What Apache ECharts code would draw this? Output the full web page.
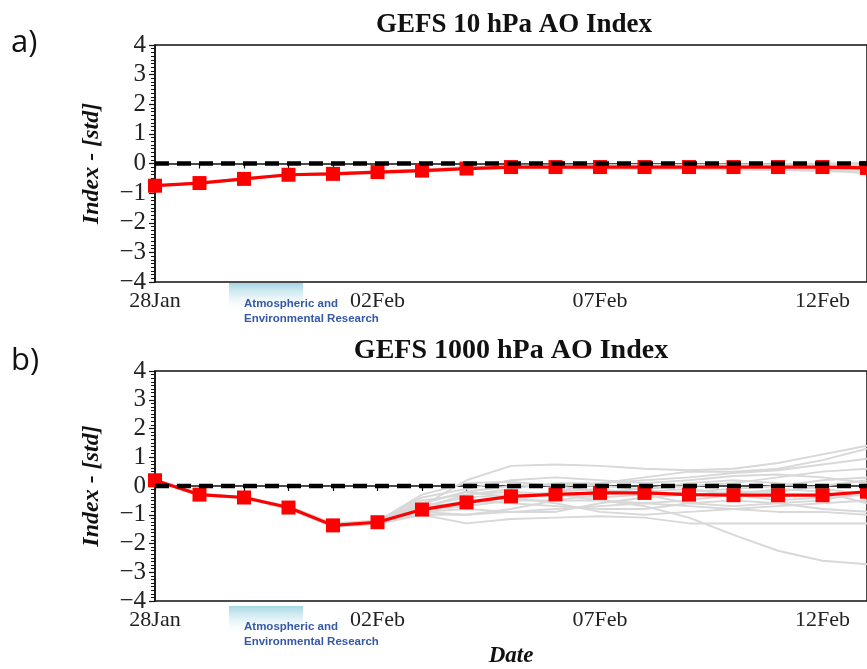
<!DOCTYPE html>
<html>
<head>
<meta charset="utf-8">
<script src="https://cdn.jsdelivr.net/npm/echarts@6/dist/echarts.min.js"></script>
<style>
html,body{margin:0;padding:0;background:#fff;}
#chart{width:867px;height:669px;}
</style>
</head>
<body>
<div id="chart"></div>
<script>
// ---- Data ----
var dates = ['28Jan','29Jan','30Jan','31Jan','01Feb','02Feb','03Feb','04Feb','05Feb','06Feb','07Feb','08Feb','09Feb','10Feb','11Feb','12Feb','13Feb'];
var xTickLabels = ['28Jan','02Feb','07Feb','12Feb'];
var titleTop = 'GEFS 10 hPa AO Index';
var titleBottom = 'GEFS 1000 hPa AO Index';
// zero reference line
var zeroRef = [0,0,0,0,0,0,0,0,0,0,0,0,0,0,0,0,0];

// 10 hPa ensemble mean
var mean10 = [-0.75,-0.66,-0.52,-0.38,-0.35,-0.29,-0.24,-0.17,-0.12,-0.12,-0.12,-0.12,-0.12,-0.12,-0.12,-0.12,-0.15];
// 10 hPa members
var m10a = [-0.75,-0.65,-0.50,-0.36,-0.32,-0.26,-0.20,-0.12,-0.08,-0.07,-0.06,-0.05,-0.04,-0.03,-0.02,0.00,0.02];
var m10b = [-0.75,-0.67,-0.54,-0.40,-0.38,-0.32,-0.28,-0.19,-0.16,-0.16,-0.17,-0.18,-0.18,-0.20,-0.22,-0.25,-0.30];
var m10c = [-0.75,-0.66,-0.52,-0.38,-0.34,-0.28,-0.22,-0.14,-0.10,-0.10,-0.10,-0.09,-0.08,-0.08,-0.06,-0.05,-0.05];
var m10d = [-0.75,-0.66,-0.53,-0.39,-0.36,-0.30,-0.26,-0.17,-0.14,-0.14,-0.15,-0.15,-0.16,-0.17,-0.18,-0.20,-0.22];
var m10e = [-0.75,-0.65,-0.51,-0.37,-0.33,-0.27,-0.23,-0.14,-0.11,-0.11,-0.11,-0.12,-0.13,-0.12,-0.11,-0.10,-0.12];
var m10f = [-0.75,-0.67,-0.53,-0.39,-0.36,-0.30,-0.25,-0.16,-0.13,-0.13,-0.12,-0.11,-0.10,-0.12,-0.15,-0.18,-0.35];

// 1000 hPa ensemble mean
var mean1000 = [0.20,-0.30,-0.40,-0.75,-1.37,-1.26,-0.82,-0.57,-0.36,-0.29,-0.24,-0.24,-0.30,-0.32,-0.32,-0.32,-0.20];
// 1000 hPa members
var m1a = [0.20,-0.28,-0.38,-0.70,-1.30,-1.20,-0.70,0.20,0.70,0.75,0.70,0.60,0.55,0.60,0.80,1.10,1.40];
var m1b = [0.20,-0.30,-0.42,-0.78,-1.40,-1.30,-0.90,-0.60,-0.40,-0.20,0.10,0.30,0.50,0.50,0.60,0.90,1.30];
var m1c = [0.20,-0.32,-0.40,-0.72,-1.35,-1.22,-0.75,-0.30,-0.10,0.10,0.10,0.20,0.30,0.45,0.55,0.75,0.95];
var m1d = [0.20,-0.30,-0.38,-0.76,-1.40,-1.28,-1.00,-1.30,-1.15,-1.10,-1.05,-1.10,-1.30,-1.30,-1.30,-1.30,-1.30];
var m1e = [0.20,-0.30,-0.40,-0.75,-1.38,-1.25,-0.85,-0.70,-0.50,-0.50,-0.50,-0.70,-1.10,-1.70,-2.25,-2.60,-2.72];
var m1f = [0.20,-0.30,-0.40,-0.74,-1.36,-1.26,-0.60,-0.20,0.00,0.05,0.00,-0.10,0.00,0.10,0.30,0.50,0.60];
var m1g = [0.20,-0.31,-0.41,-0.77,-1.39,-1.29,-0.90,-0.80,-0.90,-0.80,-0.70,-0.60,-0.70,-0.80,-0.90,-0.90,-1.00];
var m1h = [0.20,-0.29,-0.39,-0.73,-1.35,-1.24,-0.50,-0.30,-0.20,-0.30,-0.40,-0.30,-0.20,-0.10,0.00,0.20,0.30];
var m1i = [0.20,-0.30,-0.41,-0.76,-1.38,-1.27,-0.80,-0.50,-0.60,-0.70,-0.80,-0.80,-0.60,-0.50,-0.60,-0.80,-0.90];
var m1j = [0.20,-0.31,-0.42,-0.79,-1.42,-1.32,-1.00,-1.00,-0.80,-0.50,-0.30,-0.20,-0.10,-0.30,-0.50,-0.40,-0.30];
var m1k = [0.20,-0.29,-0.38,-0.72,-1.33,-1.22,-0.40,-0.10,0.20,0.30,0.20,0.10,0.20,0.35,0.40,0.30,0.10];
var m1l = [0.20,-0.30,-0.40,-0.75,-1.37,-1.26,-0.60,-0.70,-0.50,-0.20,-0.10,-0.30,-0.60,-0.70,-0.60,-0.50,-0.20];
var m1m = [0.20,-0.30,-0.39,-0.74,-1.36,-1.25,-0.70,-0.40,-0.30,-0.30,-0.50,-0.60,-0.50,-0.30,-0.10,-0.20,-0.60];
var m1n = [0.20,-0.31,-0.41,-0.77,-1.40,-1.30,-0.90,-1.00,-0.90,-0.90,-0.60,-0.40,-0.30,-0.20,-0.20,0.00,0.20];
var m1o = [0.20,-0.29,-0.39,-0.73,-1.34,-1.23,-0.30,0.10,0.15,0.00,-0.20,-0.10,0.10,0.20,0.10,-0.10,-0.30];
var m1p = [0.20,-0.30,-0.40,-0.75,-1.37,-1.27,-0.60,-0.20,-0.40,-0.60,-0.90,-1.00,-0.90,-0.80,-0.70,-0.60,-0.50];

var members10 = [m10a, m10b, m10c, m10d, m10e, m10f];
var members1000 = [m1a, m1b, m1c, m1d, m1e, m1f, m1g, m1h, m1i, m1j, m1k, m1l, m1m, m1n, m1o, m1p];

// ---- Chart ----
var chart = echarts.init(document.getElementById('chart'), null, {renderer: 'canvas'});
var serif = '"Liberation Serif","Times New Roman",serif';
var axisColor = '#111';

function xAxisCfg(gridIndex, withName) {
  var cfg = {
    type: 'category', gridIndex: gridIndex, data: dates, boundaryGap: false,
    axisLine: {show: true, lineStyle: {color: axisColor, width: 1.5}},
    axisTick: {show: true, interval: 0, length: 5, lineStyle: {color: axisColor, width: 1.2}},
    axisLabel: {
      interval: function (idx, val) { return xTickLabels.indexOf(val) >= 0; },
      fontFamily: serif, fontSize: 22, color: '#222', margin: 8
    },
    splitLine: {show: false}
  };
  if (withName) {
    cfg.name = 'Date';
    cfg.nameLocation = 'middle';
    cfg.nameGap = 44;
    cfg.nameTextStyle = {fontFamily: serif, fontSize: 23, fontWeight: 'bold', fontStyle: 'italic', color: '#111'};
  }
  return cfg;
}
function yAxisCfg(gridIndex) {
  return {
    type: 'value', gridIndex: gridIndex, min: -4, max: 4, interval: 1,
    name: 'Index - [std]', nameLocation: 'middle', nameRotate: 90, nameGap: 51,
    nameTextStyle: {fontFamily: serif, fontSize: 24, fontWeight: 'bold', fontStyle: 'italic', color: '#111'},
    axisLine: {show: true, lineStyle: {color: axisColor, width: 1.5}},
    axisTick: {show: true, length: 6, lineStyle: {color: axisColor, width: 1.2}},
    minorTick: {show: true, splitNumber: 8, length: 4, lineStyle: {color: axisColor, width: 1}},
    axisLabel: {
      fontFamily: serif, fontSize: 25, color: '#222', margin: 9,
      formatter: function (v) { return v < 0 ? '\u2212' + Math.abs(v) : String(v); }
    },
    splitLine: {show: false}
  };
}

var series = [];
function addPanel(members, mean, idx) {
  members.forEach(function (m) {
    series.push({
      type: 'line', xAxisIndex: idx, yAxisIndex: idx, data: m, symbol: 'none',
      lineStyle: {color: '#d8d8d8', width: 2}, z: 2, silent: true
    });
  });
  series.push({
    type: 'line', xAxisIndex: idx, yAxisIndex: idx, data: mean,
    symbol: 'rect', symbolSize: 14,
    lineStyle: {color: '#ff0000', width: 3.2}, itemStyle: {color: '#ff0000'}, z: 5
  });
  series.push({
    type: 'line', xAxisIndex: idx, yAxisIndex: idx, data: zeroRef, z: 8,
    symbol: 'none', silent: true,
    lineStyle: {color: '#000', width: 4.5, type: [14, 8]}
  });
}
addPanel(members10, mean10, 0);
addPanel(members1000, mean1000, 1);

function logo(y0) {
  return [
    {type: 'rect', left: 229, top: y0, shape: {width: 74, height: 30}, z: 0,
     style: {fill: new echarts.graphic.LinearGradient(0, 0, 0, 1, [
       {offset: 0, color: 'rgba(160,212,226,0.95)'},
       {offset: 1, color: 'rgba(255,255,255,0)'}])}},
    {type: 'text', left: 244, top: y0 + 15, z: 1,
     style: {text: 'Atmospheric and', font: 'bold 11.5px "Liberation Sans", Arial, sans-serif', fill: '#3558a8'}},
    {type: 'text', left: 244, top: y0 + 30, z: 1,
     style: {text: 'Environmental Research', font: 'bold 11.5px "Liberation Sans", Arial, sans-serif', fill: '#3558a8'}}
  ];
}

var option = {
  backgroundColor: '#fff',
  animation: false,
  title: [
    {text: titleTop, left: 509, top: 7, textAlign: 'center',
     textStyle: {fontFamily: serif, fontSize: 27, fontWeight: 'bold', color: '#111'}},
    {text: titleBottom, left: 506, top: 332, textAlign: 'center',
     textStyle: {fontFamily: serif, fontSize: 28, fontWeight: 'bold', color: '#111'}}
  ],
  grid: [
    {left: 155, top: 45, right: -6, height: 237, show: true, borderColor: axisColor, borderWidth: 1.5, backgroundColor: 'transparent'},
    {left: 155, top: 371, right: -6, height: 234, show: true, borderColor: axisColor, borderWidth: 1.5, backgroundColor: 'transparent'}
  ],
  xAxis: [xAxisCfg(0, false), xAxisCfg(1, true)],
  yAxis: [yAxisCfg(0), yAxisCfg(1)],
  graphic: [
    {type: 'text', left: 11, top: 28, style: {text: 'a)', font: '31px "Open Sans", "Liberation Sans", sans-serif', fill: '#111'}},
    {type: 'text', left: 11, top: 346, style: {text: 'b)', font: '31px "Open Sans", "Liberation Sans", sans-serif', fill: '#111'}}
  ].concat(logo(283)).concat(logo(606)),
  series: series
};
chart.setOption(option);
</script>
</body>
</html>
